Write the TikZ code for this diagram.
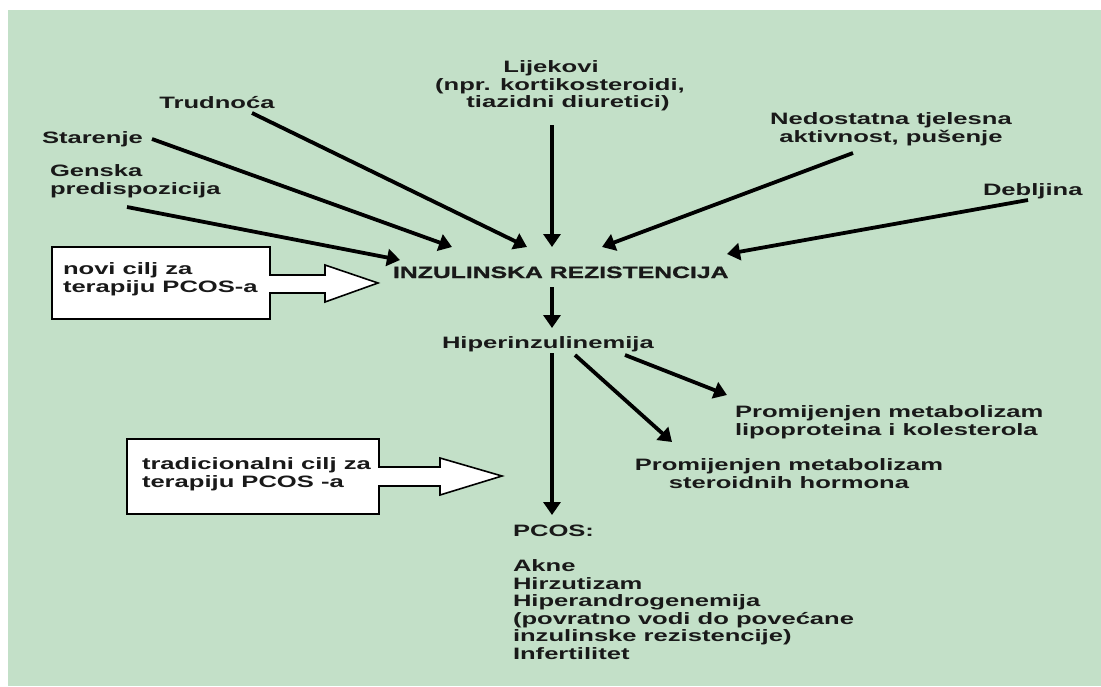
\documentclass[tikz,border=0pt]{standalone}
\usepackage{fontspec}
\setmainfont{Liberation Sans}[FakeStretch=1.55]
\newfontfamily\inzfont{Liberation Sans}[FakeStretch=1.5, BoldFeatures={FakeBold=1.2}]
\usetikzlibrary{arrows.meta}
\definecolor{bg}{RGB}{195,224,200}
\definecolor{ink}{RGB}{25,25,25}
\begin{document}
\begin{tikzpicture}[x=1pt,y=-1pt,
  lab/.style={inner sep=0pt, outer sep=0pt, text=ink, font=\fontsize{16.5}{17.5}\selectfont\bfseries},
  boxtext/.style={lab, align=left},
  arr/.style={line width=3.8pt, draw=black, -{Triangle[length=13pt,width=17pt]}},
  blockarrow/.style={line width=1.6pt, draw=black, line join=miter}
]
\path[use as bounding box, fill=white] (0,0) rectangle (1101,686);
\fill[bg] (8,10) rectangle (1101,686);

% causes
\node[lab, align=center, anchor=north] (lijek) at (560,61) {\hspace*{-18pt}Lijekovi\\(npr. kortikosteroidi,\\\hspace*{16pt}tiazidni diuretici)};
\node[lab, anchor=base] (trud) at (217,108) {Trudnoća};
\node[lab, anchor=base west] (star) at (42,143) {Starenje};
\node[lab, align=left, anchor=north west] (gen) at (50,165) {Genska\\predispozicija};
\node[lab, align=center, anchor=north] (ned) at (891,113) {Nedostatna tjelesna\\aktivnost, pušenje};
\node[lab, anchor=base west] (debl) at (983,195) {Debljina};

% centre
\node[lab, anchor=base west, font=\fontsize{16.5}{17.5}\inzfont\bfseries] (inz) at (393,278) {INZULINSKA REZISTENCIJA};
\node[lab, anchor=base west] (hip) at (442,348) {Hiperinzulinemija};
\node[lab, align=left, anchor=north west] (lipo) at (735,406) {Promijenjen metabolizam\\lipoproteina i kolesterola};
\node[lab, align=center, anchor=north] (ster) at (789,459) {Promijenjen metabolizam\\steroidnih hormona};
\node[lab, align=left, anchor=north west] (pcos) at (513,525) {PCOS:\\[17.5pt]Akne\\Hirzutizam\\Hiperandrogenemija\\(povratno vodi do povećane\\inzulinske rezistencije)\\Infertilitet};

% coordinates for arrow ends
\coordinate (genT) at (127,207);   \coordinate (genH) at (400,260);
\coordinate (starT) at (152,139);  \coordinate (starH) at (452,247);
\coordinate (trudT) at (252,113);  \coordinate (trudH) at (527,247);
\coordinate (lijT) at (552,125);   \coordinate (lijH) at (552,247);
\coordinate (nedT) at (853,153);   \coordinate (nedH) at (602,247);
\coordinate (deblT) at (1028,200); \coordinate (deblH) at (727,254);
\coordinate (inzT) at (552,287);   \coordinate (hipH) at (552,328);
\coordinate (hipT) at (552,353);   \coordinate (pcosH) at (552,515);
\coordinate (lipoT) at (625,355);  \coordinate (lipoH) at (727,395);
\coordinate (sterT) at (575,355);  \coordinate (sterH) at (672,442);

\draw[arr] (genT) -- (genH);
\draw[arr] (starT) -- (starH);
\draw[arr] (trudT) -- (trudH);
\draw[arr] (lijT) -- (lijH);
\draw[arr] (nedT) -- (nedH);
\draw[arr] (deblT) -- (deblH);
\draw[arr] (inzT) -- (hipH);
\draw[arr] (hipT) -- (pcosH);
\draw[arr] (lipoT) -- (lipoH);
\draw[arr] (sterT) -- (sterH);

% box 1 with block arrow
\fill[white] (52,247) rectangle (270,319);
\fill[white] (268,275) -- (325,275) -- (325,265) -- (378,283) -- (325,302) -- (325,293) -- (268,293) -- cycle;
\draw[blockarrow] (270,275) -- (270,247) -- (52,247) -- (52,319) -- (270,319) -- (270,293)
   -- (325,293) -- (325,302) -- (378,283) -- (325,265) -- (325,275) -- cycle;
\node[boxtext, anchor=north west] (box1) at (63,263) {novi cilj za\\terapiju PCOS-a};

% box 2 with block arrow
\fill[white] (127,439) rectangle (379,514);
\fill[white] (377,467) -- (440,467) -- (440,458) -- (502,476) -- (440,495) -- (440,486) -- (377,486) -- cycle;
\draw[blockarrow] (379,467) -- (379,439) -- (127,439) -- (127,514) -- (379,514) -- (379,486)
   -- (440,486) -- (440,495) -- (502,476) -- (440,458) -- (440,467) -- cycle;
\node[boxtext, anchor=north west] (box2) at (142,458) {tradicionalni cilj za\\terapiju PCOS -a};
\end{tikzpicture}
\end{document}
